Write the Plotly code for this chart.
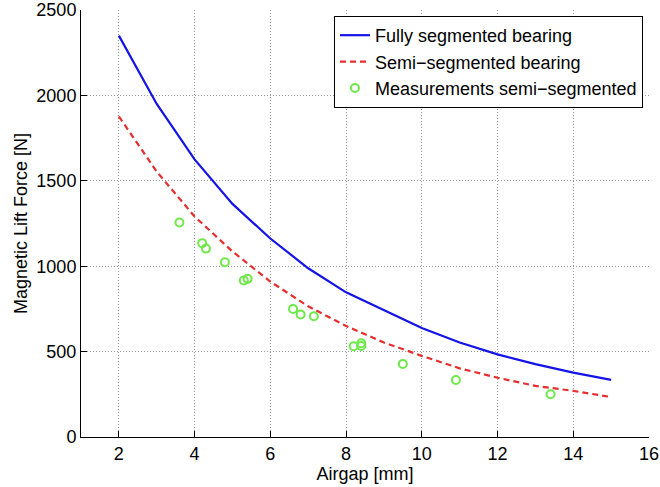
import plotly.graph_objects as go

# Data
airgap_model = [2, 3, 4, 5, 6, 7, 8, 9, 10, 11, 12, 13, 14, 15]
force_fully = [2350, 1950, 1625, 1365, 1162, 988, 847, 742, 638, 553, 484, 427, 377, 334]
force_semi = [1877, 1554, 1291, 1086, 910, 765, 650, 553, 475, 402, 347, 299, 270, 234]

airgap_meas = [3.6, 4.2, 4.3, 4.8, 5.3, 5.4, 6.6, 6.8, 7.15, 8.2, 8.4, 8.4, 9.5, 10.9, 13.4]
force_meas = [1256, 1135, 1103, 1023, 916, 926, 750, 717, 707, 531, 533, 549, 428, 334, 250]

x_ticks = [2, 4, 6, 8, 10, 12, 14, 16]
y_ticks = [0, 500, 1000, 1500, 2000, 2500]

FONT = "Liberation Sans, Arial, Helvetica, sans-serif"

fig = go.Figure()
fig.add_trace(go.Scatter(
    x=airgap_model, y=force_fully, mode="lines",
    name="Fully segmented bearing",
    line=dict(color="#1414e6", width=2.2),
))
fig.add_trace(go.Scatter(
    x=airgap_model, y=force_semi, mode="lines",
    name="Semi\u2212segmented bearing",
    line=dict(color="#e62e2e", width=2.2, dash="6px,4px"),
))
fig.add_trace(go.Scatter(
    x=airgap_meas, y=force_meas, mode="markers",
    name="Measurements semi\u2212segmented",
    marker=dict(symbol="circle-open", size=8, color="#6fe84a", line=dict(width=2, color="#6fe84a")),
))

axis_common = dict(
    showline=True, linecolor="black", linewidth=1,
    ticks="inside", ticklen=6, tickwidth=1, tickcolor="black",
    showgrid=True, gridcolor="#999999", griddash="1px,2px", gridwidth=1,
    zeroline=False, mirror=False, automargin=False,
    tickfont=dict(family=FONT, size=18, color="black"),
)

fig.update_layout(
    width=660, height=487,
    margin=dict(l=81, r=11, t=10, b=50),
    paper_bgcolor="white", plot_bgcolor="white",
    font=dict(family=FONT, size=18, color="black"),
    xaxis=dict(
        range=[1, 16], tickvals=x_ticks,
        title=dict(text="Airgap [mm]", font=dict(family=FONT, size=18), standoff=2),
        **axis_common,
    ),
    yaxis=dict(
        range=[0, 2500], tickvals=y_ticks,
        title=dict(text="Magnetic Lift Force [N]", font=dict(family=FONT, size=18), standoff=4),
        **axis_common,
    ),
    legend=dict(
        x=0.9894, y=0.986, xanchor="right", yanchor="top",
        bgcolor="white", bordercolor="black", borderwidth=1,
        font=dict(family=FONT, size=18, color="black"),
        tracegroupgap=0, itemwidth=30,
    ),
    showlegend=True,
)

fig.write_html("out.html")
